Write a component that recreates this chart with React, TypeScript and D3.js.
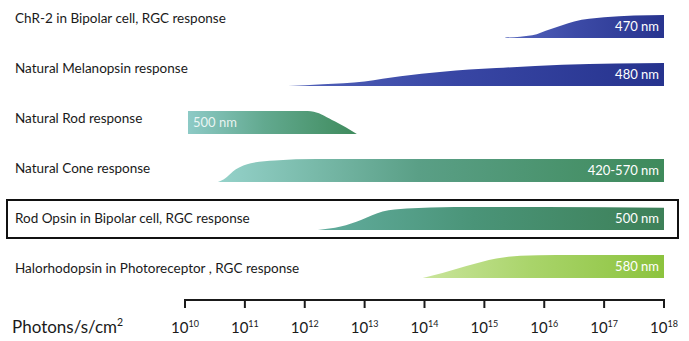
import React from "react";
import * as d3 from "d3";

const categories = [
  "ChR-2 in Bipolar cell, RGC response",
  "Natural Melanopsin response",
  "Natural Rod response",
  "Natural Cone response",
  "Rod Opsin in Bipolar cell, RGC response",
  "Halorhodopsin in Photoreceptor , RGC response",
];
const wavelengths = ["470 nm", "480 nm", "500 nm", "420-570 nm", "500 nm", "580 nm"];

// [log10(photons/s/cm²), relative response (0..1)]
const chr2: [number, number][] = [[15.35, 0.02], [15.8, 0.12], [16.1, 0.38], [16.5, 0.72], [17.0, 0.9], [17.5, 0.98], [18.0, 1]];
const melanopsin: [number, number][] = [[11.72, 0], [12.3, 0.08], [13.0, 0.2], [13.6, 0.42], [14.3, 0.62], [15.2, 0.78], [16.3, 0.92], [17.2, 0.98], [18.0, 1]];
const rod: [number, number][] = [[10.05, 1], [12.05, 1], [12.15, 0.97], [12.5, 0.55], [12.87, 0]];
const cone: [number, number][] = [[10.55, 0], [10.65, 0.12], [10.85, 0.55], [11.1, 0.82], [11.5, 0.94], [12.2, 1], [18.0, 1]];
const rodOpsin: [number, number][] = [[12.22, 0], [12.6, 0.15], [12.95, 0.45], [13.3, 0.8], [13.7, 0.93], [14.5, 1], [16.0, 1], [18.0, 0.97]];
const halorhodopsin: [number, number][] = [[13.97, 0], [14.3, 0.22], [14.7, 0.52], [15.2, 0.85], [15.6, 0.97], [16.2, 1], [18.0, 1]];
const series = [chr2, melanopsin, rod, cone, rodOpsin, halorhodopsin];

const colorStart = ["#5565bd", "#5262ba", "#8dcac6", "#95d2ca", "#62ad9e", "#cae59c"];
const colorMid = ["#3c4aa6", "#3846a4", "#62a98f", "#5a9f86", "#4a9478", "#a9d46a"];
const colorEnd = ["#28348f", "#26338e", "#3f8b5d", "#3e8a5b", "#3d8058", "#8cc33e"];

const tickExponents = [10, 11, 12, 13, 14, 15, 16, 17, 18];
const axisTitle = "Photons/s/cm";
const highlighted = "Rod Opsin in Bipolar cell, RGC response";

const FONT = "Lato, 'Open Sans', sans-serif";

export default function App() {
  const x = d3.scaleLinear().domain([10, 18]).range([185, 664]);
  const row = d3.scalePoint<string>().domain(categories).range([26.5, 266.5]);
  const labelRow = d3.scalePoint<string>().domain(categories).range([18, 268]);
  const bandH = 23;
  const y = d3.scaleLinear().domain([0, 1]).range([bandH / 2, -bandH / 2]);

  const area = d3
    .area<[number, number]>()
    .x((d) => x(d[0]))
    .y0(bandH / 2)
    .y1((d) => y(d[1]))
    .curve(d3.curveMonotoneX);

  const axisY = 300;
  const hy = row(highlighted)!;

  return (
    <svg width={689} height={341} style={{ position: "absolute", left: 0, top: 0, background: "#fff" }}>
      <defs>
        {categories.map((c, i) => (
          <linearGradient key={c} id={`g${i}`} x1="0" x2="1" y1="0" y2="0">
            <stop offset="0%" stopColor={colorStart[i]} />
            <stop offset="45%" stopColor={colorMid[i]} />
            <stop offset="100%" stopColor={colorEnd[i]} />
          </linearGradient>
        ))}
      </defs>

      {categories.map((c, i) => {
        const cy = row(c)!;
        const pts = series[i];
        const isRod = i === 2;
        return (
          <g key={c}>
            <text x={15} y={labelRow(c)!} dy="0.35em" fontFamily={FONT} fontSize={13.5} fill="#1a1a1a">
              {c}
            </text>
            <g transform={`translate(0,${cy})`}>
              <path d={area(pts)!} fill={`url(#g${i})`} />
              <text
                x={isRod ? x(pts[0][0]) + 5 : x(pts[pts.length - 1][0]) - 5}
                y={0}
                dy="0.36em"
                textAnchor={isRod ? "start" : "end"}
                fontFamily={FONT}
                fontSize={13}
                fill="#ffffff"
                fillOpacity={isRod ? 0.85 : 1}
              >
                {wavelengths[i]}
              </text>
            </g>
          </g>
        );
      })}

      <rect x={7} y={hy - 18.5} width={671} height={38} fill="none" stroke="#111" strokeWidth={2} />

      <line x1={x(10) - 1} x2={x(18) + 1} y1={axisY} y2={axisY} stroke="#1a1a1a" strokeWidth={2} />
      {tickExponents.map((e) => (
        <g key={e} transform={`translate(${x(e)},0)`}>
          <line y1={axisY} y2={axisY + 8} stroke="#1a1a1a" strokeWidth={2} />
          <text y={333} textAnchor="middle" fontFamily={FONT} fontSize={15} fill="#1a1a1a">
            10
            <tspan fontSize={9} dy={-6}>
              {e}
            </tspan>
          </text>
        </g>
      ))}
      <text x={12} y={333} fontFamily={FONT} fontSize={17} fill="#1a1a1a">
        {axisTitle}
        <tspan fontSize={10.5} dy={-7}>
          2
        </tspan>
      </text>
    </svg>
  );
}
